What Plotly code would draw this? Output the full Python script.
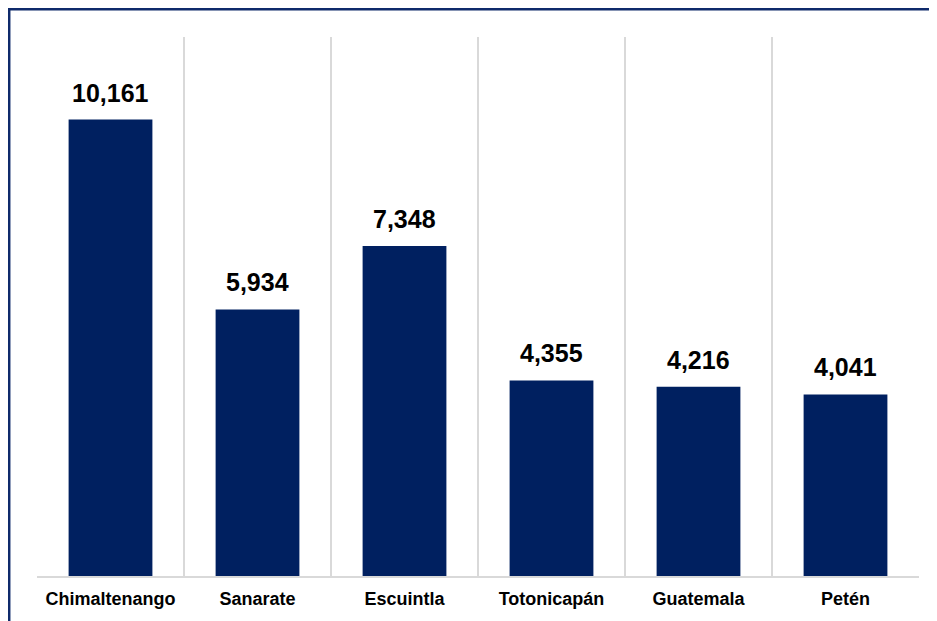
import plotly.graph_objects as go

# datos
municipios = ["Chimaltenango", "Sanarate", "Escuintla", "Totonicapán", "Guatemala", "Petén"]
valores = [10161, 5934, 7348, 4355, 4216, 4041]

BAR_COLOR = "#002060"
FONT = "Liberation Sans, Arial, sans-serif"

fig = go.Figure(go.Bar(
    x=municipios,
    y=valores,
    marker_color=BAR_COLOR,
    marker_line_width=0,
    width=0.57,
    hoverinfo="skip",
))

# etiquetas de valor encima de cada barra
for m, v in zip(municipios, valores):
    fig.add_annotation(
        x=m, y=v,
        text=f"<b>{v:,}</b>",
        showarrow=False,
        yanchor="bottom",
        yshift=11,
        font=dict(size=25, color="black", family=FONT),
    )

# borde exterior del gráfico (empieza en el borde del lienzo)
fig.add_shape(
    type="rect", xref="paper", yref="paper",
    x0=(-29 + 1.2) / 882, x1=(960 - 29) / 882,
    y0=(568 - 660) / 539, y1=(568 - 1.2) / 539,
    line=dict(color="#0f2a6b", width=2.5),
    fillcolor="rgba(0,0,0,0)",
    layer="below",
)

fig.update_layout(
    width=937,
    height=621,
    paper_bgcolor="white",
    plot_bgcolor="white",
    showlegend=False,
    margin=dict(l=29, r=26, t=29, b=53),
    font=dict(family=FONT, color="black"),
    xaxis=dict(
        tickson="boundaries",
        showgrid=True,
        gridcolor="#d9d9d9",
        gridwidth=2,
        showline=True,
        linecolor="#d9d9d9",
        linewidth=2,
        ticks="",
        ticklabelstandoff=5,
        tickfont=dict(size=18, color="black", family=FONT),
        tickprefix="<b>",
        ticksuffix="</b>",
    ),
    yaxis=dict(
        range=[0, 12000],
        visible=False,
        showgrid=False,
        zeroline=False,
    ),
)

fig.write_html("out.html")
